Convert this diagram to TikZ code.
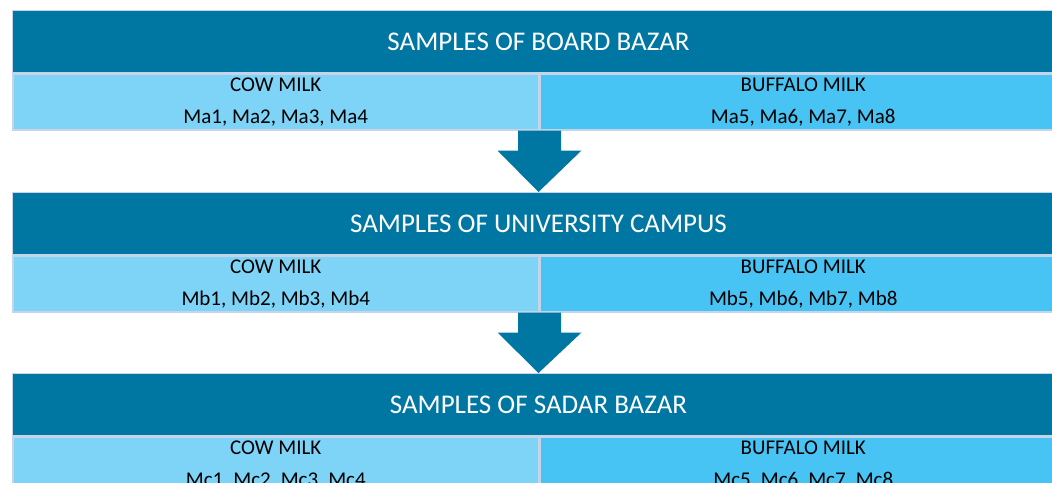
\documentclass[tikz,border=0pt]{standalone}
\usepackage{fontspec}
\setmainfont{Carlito}
\usetikzlibrary{positioning,calc}

\definecolor{headblue}{HTML}{0077A3}
\definecolor{cowblue}{HTML}{7DD4F7}
\definecolor{bufblue}{HTML}{47C4F4}
\definecolor{rimblue}{HTML}{C6D4EA}

\tikzset{
  header/.style={fill=headblue, draw=rimblue, line width=1pt, text=white,
    font=\fontsize{27}{30}\selectfont, minimum width=1052pt, minimum height=62pt,
    inner sep=0pt, anchor=north west},
  cowcell/.style={fill=cowblue, draw=rimblue, line width=1.5pt, text=black,
    font=\fontsize{21}{32}\selectfont, align=center, minimum width=526pt,
    minimum height=56pt, inner sep=0pt, anchor=north west},
  bufcell/.style={cowcell, fill=bufblue},
  blockarrow/.style={fill=headblue}
}

\newcommand{\downarrowblock}[2]{% top centre, tip
  \fill[blockarrow] ($(#1)+(-21.5,0)$) -- ($(#1)+(-21.5,20)$) -- ($(#1)+(-42,20)$)
    -- (#2) -- ($(#1)+(42,20)$) -- ($(#1)+(21.5,20)$) -- ($(#1)+(21.5,0)$) -- cycle;}

\begin{document}
\begin{tikzpicture}[x=1pt,y=-1pt]
\useasboundingbox (0,0) rectangle (1052,482);
\clip (0,0) rectangle (1052,482);

% board bazar
\node[header] (hda) at (12,10) {SAMPLES OF BOARD BAZAR};
\node[cowcell] (cowa) at (hda.south west) {COW MILK\\Ma1, Ma2, Ma3, Ma4};
\node[bufcell] (bufa) at (cowa.north east) {BUFFALO MILK\\Ma5, Ma6, Ma7, Ma8};

% university campus
\node[header] (hdb) at (12,192) {SAMPLES OF UNIVERSITY CAMPUS};
\node[cowcell] (cowb) at (hdb.south west) {COW MILK\\Mb1, Mb2, Mb3, Mb4};
\node[bufcell] (bufb) at (cowb.north east) {BUFFALO MILK\\Mb5, Mb6, Mb7, Mb8};

% sadar bazar
\node[header] (hdc) at (12,373) {SAMPLES OF SADAR BAZAR};
\node[cowcell] (cowc) at (hdc.south west) {COW MILK\\Mc1, Mc2, Mc3, Mc4};
\node[bufcell] (bufc) at (cowc.north east) {BUFFALO MILK\\Mc5, Mc6, Mc7, Mc8};

% arrows
\downarrowblock{cowa.south east}{hdb.north}
\downarrowblock{cowb.south east}{hdc.north}
\end{tikzpicture}
\end{document}
